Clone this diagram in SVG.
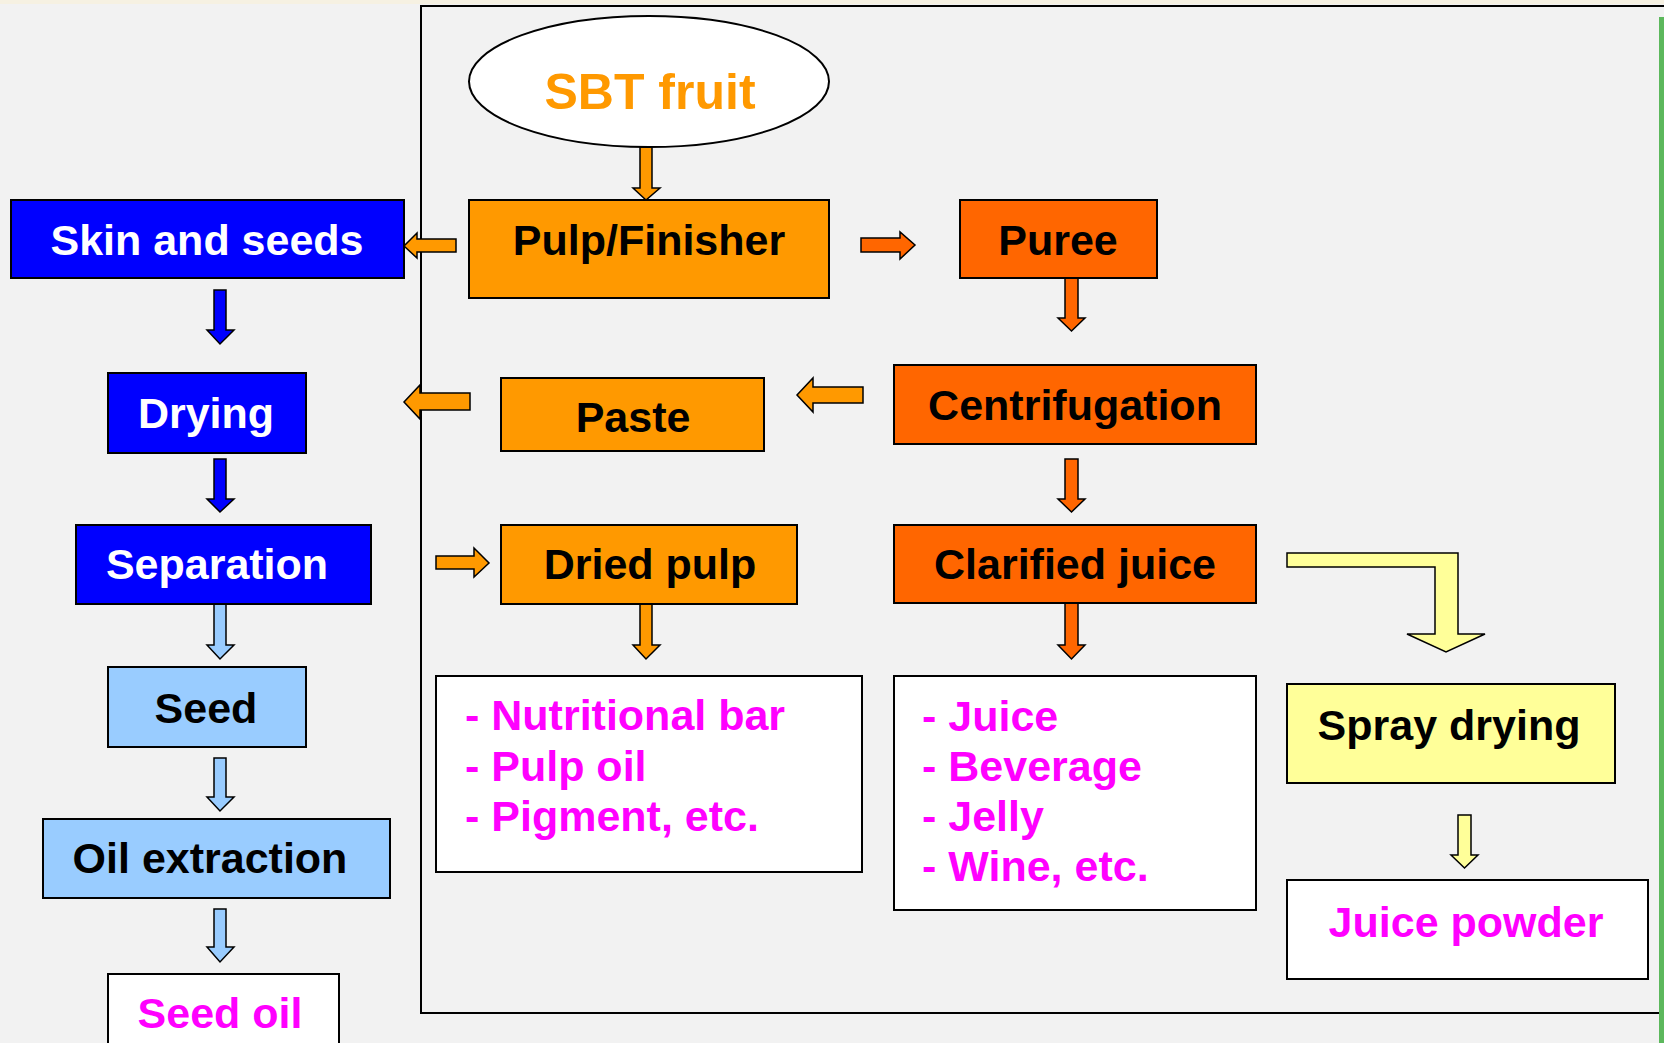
<svg xmlns="http://www.w3.org/2000/svg" width="1664" height="1043" viewBox="0 0 1664 1043">
<style>
.box{stroke:#000;stroke-width:2}
.t{font-family:"Liberation Sans",Arial,sans-serif;font-weight:bold;font-size:43px;text-anchor:middle}
.l{font-family:"Liberation Sans",Arial,sans-serif;font-weight:bold;font-size:43px;fill:#FF00FF}
.ar{stroke:#000;stroke-width:1.5;stroke-linejoin:miter}
.blue{fill:#0000FF}
.lblue{fill:#99CCFF}
.org{fill:#FF9900}
.red{fill:#FF6600}
.yel{fill:#FFFF99}
</style>
<rect x="0" y="0" width="1664" height="1043" fill="#F2F2F2"/>
<rect x="0" y="0" width="1664" height="4" fill="#F6F1E2"/>
<rect x="421" y="6" width="1250" height="1007" fill="none" stroke="#000" stroke-width="2"/>
<rect x="1659" y="17" width="5" height="1026" fill="#5CB85C"/>

<g id="connectors">
  <path class="ar org" d="M640,147 L652,147 L652,188 L660,188 L646,200 L633,188 L640,188 Z"/>
  <path class="ar blue" d="M214,290 L226,290 L226,330 L234,330 L220,344 L207,330 L214,330 Z"/>
  <path class="ar blue" d="M214,459 L226,459 L226,499 L234,499 L220,512 L207,499 L214,499 Z"/>
  <path class="ar lblue" d="M214,604 L226,604 L226,645 L234,645 L220,659 L207,645 L214,645 Z"/>
  <path class="ar lblue" d="M214,758 L226,758 L226,797 L234,797 L220,811 L207,797 L214,797 Z"/>
  <path class="ar lblue" d="M214,909 L226,909 L226,947 L234,947 L220,962 L207,947 L214,947 Z"/>
  <path class="ar org" d="M640,604 L652,604 L652,645 L660,645 L646,659 L633,645 L640,645 Z"/>
  <path class="ar red" d="M1065,278 L1078,278 L1078,318 L1085,318 L1071.5,331 L1058,318 L1065,318 Z"/>
  <path class="ar red" d="M1065,459 L1078,459 L1078,499 L1085,499 L1071.5,512 L1058,499 L1065,499 Z"/>
  <path class="ar red" d="M1065,603 L1078,603 L1078,645 L1085,645 L1071.5,659 L1058,645 L1065,645 Z"/>
  <path class="ar yel" d="M1458,815 L1471,815 L1471,855 L1478,855 L1464.5,868 L1451,855 L1458,855 Z"/>
  <path class="ar org" d="M456,239 L456,252 L417,252 L417,258 L404,246 L417,233 L417,239 Z"/>
  <path class="ar org" d="M470,393 L470,410 L420,410 L420,419 L404,402 L420,385 L420,393 Z"/>
  <path class="ar org" d="M863,387 L863,403 L813,403 L813,412 L797,395 L813,378 L813,387 Z"/>
  <path class="ar org" d="M436,556 L474,556 L474,548 L489,563 L474,577 L474,569 L436,569 Z"/>
  <path class="ar red" d="M861,238 L900,238 L900,232 L915,245 L900,259 L900,252 L861,252 Z"/>
  <path class="ar yel" d="M1287,553 L1458,553 L1458,634 L1485,634 L1446,652 L1407,634 L1435,634 L1435,567 L1287,567 Z"/>
</g>

<g id="sbt-fruit">
  <ellipse class="box" cx="649" cy="81.5" rx="180" ry="65.5" fill="#FFFFFF"/>
  <text class="t" x="650" y="109" fill="#FF9900" style="font-size:50px">SBT fruit</text>
</g>
<g id="pulp-finisher">
  <rect class="box org" x="469" y="200" width="360" height="98"/>
  <text class="t" x="649" y="255" fill="#000">Pulp/Finisher</text>
</g>
<g id="skin-and-seeds">
  <rect class="box blue" x="11" y="200" width="393" height="78"/>
  <text class="t" x="207" y="255" fill="#FFF">Skin and seeds</text>
</g>
<g id="drying">
  <rect class="box blue" x="108" y="373" width="198" height="80"/>
  <text class="t" x="206" y="428" fill="#FFF">Drying</text>
</g>
<g id="separation">
  <rect class="box blue" x="76" y="525" width="295" height="79"/>
  <text class="t" x="217" y="579" fill="#FFF">Separation</text>
</g>
<g id="seed">
  <rect class="box lblue" x="108" y="667" width="198" height="80"/>
  <text class="t" x="206" y="723" fill="#000">Seed</text>
</g>
<g id="oil-extraction">
  <rect class="box lblue" x="43" y="819" width="347" height="79"/>
  <text class="t" x="210" y="873" fill="#000">Oil extraction</text>
</g>
<g id="seed-oil">
  <rect class="box" x="108" y="974" width="231" height="80" fill="#FFF"/>
  <text class="t" x="220" y="1028" fill="#FF00FF">Seed oil</text>
</g>
<g id="puree">
  <rect class="box red" x="960" y="200" width="197" height="78"/>
  <text class="t" x="1058" y="255" fill="#000">Puree</text>
</g>
<g id="paste">
  <rect class="box org" x="501" y="378" width="263" height="73"/>
  <text class="t" x="633" y="432" fill="#000">Paste</text>
</g>
<g id="centrifugation">
  <rect class="box red" x="894" y="365" width="362" height="79"/>
  <text class="t" x="1075" y="420" fill="#000">Centrifugation</text>
</g>
<g id="dried-pulp">
  <rect class="box org" x="501" y="525" width="296" height="79"/>
  <text class="t" x="650" y="579" fill="#000">Dried pulp</text>
</g>
<g id="clarified-juice">
  <rect class="box red" x="894" y="525" width="362" height="78"/>
  <text class="t" x="1075" y="579" fill="#000">Clarified juice</text>
</g>
<g id="pulp-products">
  <rect class="box" x="436" y="676" width="426" height="196" fill="#FFF"/>
  <text class="l" x="465" y="730">- Nutritional bar</text>
  <text class="l" x="465" y="781">- Pulp oil</text>
  <text class="l" x="465" y="831">- Pigment, etc.</text>
</g>
<g id="juice-products">
  <rect class="box" x="894" y="676" width="362" height="234" fill="#FFF"/>
  <text class="l" x="922" y="731">- Juice</text>
  <text class="l" x="922" y="781">- Beverage</text>
  <text class="l" x="922" y="831">- Jelly</text>
  <text class="l" x="922" y="881">- Wine, etc.</text>
</g>
<g id="spray-drying">
  <rect class="box yel" x="1287" y="684" width="328" height="99"/>
  <text class="t" x="1449" y="740" fill="#000">Spray drying</text>
</g>
<g id="juice-powder">
  <rect class="box" x="1287" y="880" width="361" height="99" fill="#FFF"/>
  <text class="t" x="1466" y="937" fill="#FF00FF">Juice powder</text>
</g>
</svg>
